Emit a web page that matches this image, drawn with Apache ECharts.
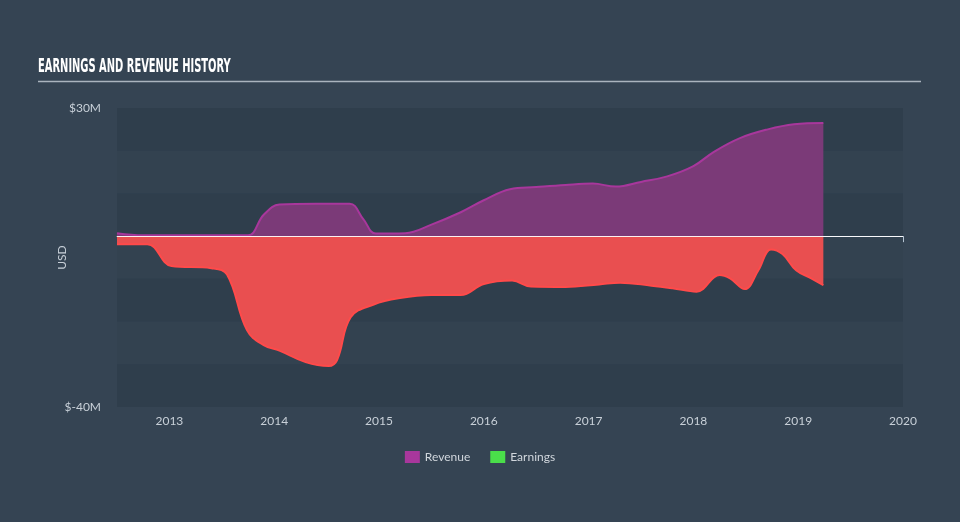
<!DOCTYPE html>
<html>
<head>
<meta charset="utf-8">
<script src="https://cdn.jsdelivr.net/npm/echarts@6/dist/echarts.min.js"></script>
<style>
html,body{margin:0;padding:0;background:#354453;}
#chart{width:960px;height:522px;}
</style>
</head>
<body>
<div id="chart"></div>
<script>
// Data (x in decimal years, values in $M)
var revenueX = [2012.5, 2012.75, 2013.0, 2013.5, 2013.75, 2013.9, 2014.05, 2014.4, 2014.72, 2014.85, 2014.97, 2015.25, 2015.5, 2015.78, 2016.0, 2016.25, 2016.5, 2016.78, 2017.04, 2017.26, 2017.5, 2017.75, 2018.0, 2018.2, 2018.45, 2018.71, 2018.96, 2019.24];
var revenueY = [0.7, 0.2, 0.2, 0.2, 0.2, 5.0, 7.4, 7.6, 7.6, 4.0, 0.6, 0.7, 2.7, 5.6, 8.4, 11.0, 11.5, 12.0, 12.3, 11.6, 12.7, 14.0, 16.4, 19.8, 23.0, 25.0, 26.2, 26.5];
var earningsX = [2012.5, 2012.79, 2013.02, 2013.4, 2013.55, 2013.74, 2013.9, 2014.05, 2014.3, 2014.52, 2014.6, 2014.73, 2014.95, 2015.2, 2015.5, 2015.78, 2016.0, 2016.27, 2016.45, 2016.78, 2017.1, 2017.3, 2017.6, 2017.8, 2018.03, 2018.25, 2018.35, 2018.49, 2018.62, 2018.74, 2018.85, 2018.98, 2019.12, 2019.24];
var earningsY = [-1.9, -1.9, -7.0, -7.5, -9.0, -22.0, -25.5, -26.8, -29.5, -30.4, -29.0, -19.0, -16.0, -14.5, -13.8, -13.8, -11.2, -10.4, -11.8, -11.9, -11.3, -10.9, -11.6, -12.2, -13.0, -9.1, -9.9, -12.4, -8.0, -3.1, -4.2, -8.0, -9.8, -11.5];
var yearTicks = [2013, 2014, 2015, 2016, 2017, 2018, 2019, 2020];
var yLabels = [-40, 30];

function pairs(xs, ys){ return xs.map(function(x,i){ return [x, ys[i]]; }); }

var chart = echarts.init(document.getElementById('chart'));
chart.setOption({
  backgroundColor: '#354453',
  animation: false,
  graphic: [{
    type: 'text', left: 38, top: 58, scaleX: 0.58,
    style: {text: 'EARNINGS AND REVENUE HISTORY', fill: '#ffffff',
      font: "bold 19px 'DejaVu Sans Condensed', 'DejaVu Sans'"}
  }, {
    type: 'line', shape: {x1: 38, y1: 81.5, x2: 921, y2: 81.5},
    style: {stroke: '#aab4be', lineWidth: 1.5}
  }],
  legend: {
    bottom: 54, left: 'center', itemGap: 20,
    itemWidth: 15, itemHeight: 12, icon: 'rect',
    textStyle: {color: '#d0d6dc', fontFamily: 'Lato', fontSize: 12},
    data: [
      {name: 'Revenue', itemStyle: {color: '#a8379c'}},
      {name: 'Earnings', itemStyle: {color: '#4ade4a'}}
    ]
  },
  grid: {left: 117, right: 57, top: 108, bottom: 115},
  xAxis: {
    type: 'value', min: 2012.5, max: 2020,
    axisLine: {show: true, lineStyle: {color: '#b4c3d2', width: 1}},
    axisTick: {show: true, length: 6, lineStyle: {color: '#b4c3d2'}, customValues: yearTicks},
    axisLabel: {color: '#c8d0d8', fontFamily: 'Lato', fontSize: 12, margin: 8, customValues: yearTicks,
      formatter: function(v){ return String(Math.round(v)); }},
    splitLine: {show: false}
  },
  yAxis: {
    type: 'value', min: -40, max: 30, interval: 10,
    name: 'USD', nameLocation: 'middle', nameGap: 49, nameRotate: 90, nameMoveOverlap: false,
    nameTextStyle: {color: '#c8d0d8', fontFamily: 'Lato', fontSize: 12},
    axisLine: {show: false}, axisTick: {show: false},
    axisLabel: {color: '#c8d0d8', fontFamily: 'Lato', fontSize: 12, margin: 16, customValues: yLabels,
      formatter: function(v){ return '$' + v + 'M'; }},
    splitLine: {show: false},
    splitArea: {show: true, areaStyle: {color: ['rgba(20,30,42,0.16)', 'rgba(20,30,42,0.05)']}}
  },
  series: [
    {
      name: 'Revenue', type: 'line', data: pairs(revenueX, revenueY),
      smooth: 0.4, showSymbol: false, symbol: 'none',
      itemStyle: {color: '#a8379c'},
      lineStyle: {color: '#a8379c', width: 2},
      areaStyle: {color: '#7b3a78', opacity: 1},
      z: 2
    },
    {
      name: 'Earnings', type: 'line', data: pairs(earningsX, earningsY),
      smooth: 0.4, showSymbol: false, symbol: 'none',
      itemStyle: {color: '#4ade4a'},
      lineStyle: {color: '#ff4a4a', width: 2},
      areaStyle: {color: '#e94f50', opacity: 1},
      z: 3,
      markLine: {
        silent: true, symbol: ['none', 'none'], label: {show: false},
        lineStyle: {color: '#ffffff', width: 1, type: 'solid', opacity: 0.9},
        data: [{yAxis: 0}]
      }
    }
  ]
});
</script>
</body>
</html>
